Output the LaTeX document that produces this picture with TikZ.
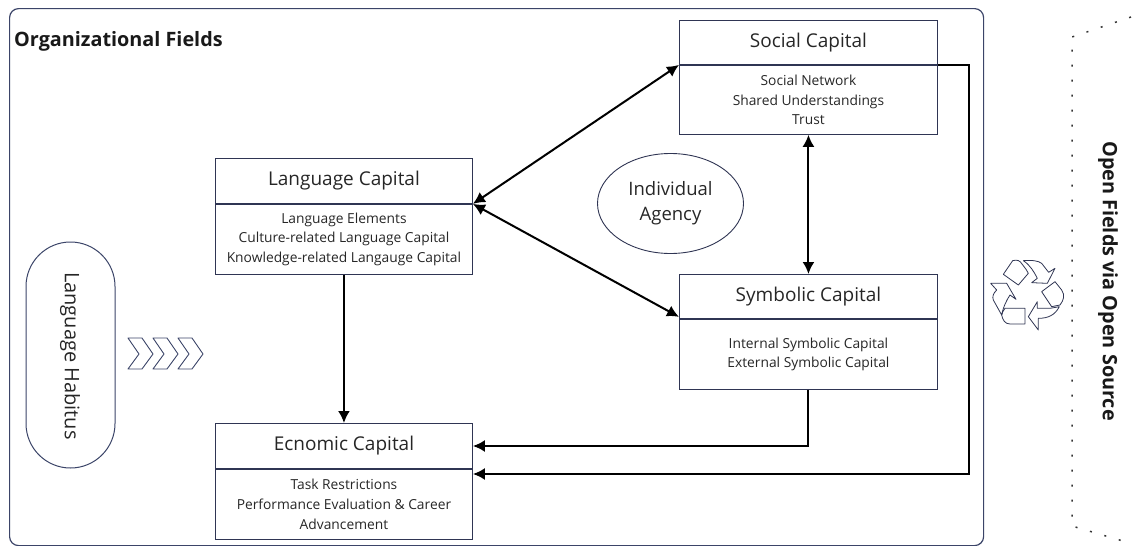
\documentclass[tikz,border=0pt]{standalone}
\usepackage{fontspec}
\setmainfont{Open Sans}
\usetikzlibrary{arrows.meta,positioning,calc,shapes.geometric}
\definecolor{framecol}{HTML}{3B4468}
\definecolor{boxcol}{HTML}{2F3553}
\tikzset{
  headbox/.style = {draw=boxcol, line width=.9pt, minimum height=44pt, font=\fontsize{19}{23}\selectfont, text=black!85},
  bodybox/.style = {draw=boxcol, line width=.9pt, align=center, font=\fontsize{13.8}{19.6}\selectfont, text=black!85, inner sep=0pt},
  link/.style = {line width=2pt, black, -{Latex[length=12pt,width=12pt]}},
  twolink/.style = {line width=2pt, black, {Latex[length=12pt,width=12pt]}-{Latex[length=12pt,width=12pt]}},
  recycle/.style = {draw=boxcol, line width=.8pt, line join=round}
}
\begin{document}
\begin{tikzpicture}[x=1pt, y=-1pt]
  \useasboundingbox (0,0) rectangle (1141,546);
  % frame
  \node[draw=framecol, line width=1.2pt, rounded corners=9pt, minimum width=974pt, minimum height=537pt, anchor=north west] (orgframe) at (9,8) {};
  \node[anchor=west, font=\fontsize{19.8}{24}\bfseries\selectfont, inner sep=0pt, text=black!90] (orgtitle) at (14,41) {Organizational Fields};

  % capitals
  \node[headbox, minimum width=258pt, anchor=north west] (socialhead) at (679,20) {Social Capital};
  \node[bodybox, minimum width=258pt, minimum height=69pt, below=0pt of socialhead] (socialbody) {Social Network\\Shared Understandings\\Trust};
  \node[headbox, minimum width=257pt, minimum height=45pt, anchor=north west] (langhead) at (215,158) {Language Capital};
  \node[bodybox, minimum width=257pt, minimum height=70pt, below=0pt of langhead] (langbody) {Language Elements\\Culture-related Language Capital\\Knowledge-related Langauge Capital};
  \node[headbox, minimum width=258pt, anchor=north west] (symhead) at (679,274) {Symbolic Capital};
  \node[bodybox, minimum width=258pt, minimum height=70pt, below=0pt of symhead] (symbody) {Internal Symbolic Capital\\External Symbolic Capital};
  \node[headbox, minimum width=257pt, minimum height=45pt, anchor=north west] (ecohead) at (215,423) {Ecnomic Capital};
  \node[bodybox, minimum width=257pt, minimum height=70pt, below=0pt of ecohead] (ecobody) {Task Restrictions\\Performance Evaluation \& Career\\Advancement};

  \node[draw=boxcol, line width=.9pt, ellipse, minimum width=146pt, minimum height=100pt, align=center, font=\fontsize{18.5}{25}\selectfont, inner sep=0pt, text=black!85] (agency) at (670.5,203.5) {Individual\\Agency};

  % habitus
  \node[draw=framecol, line width=1pt, rounded corners=44.5pt, minimum width=89pt, minimum height=226pt] (habitus) at (70.5,355) {};
  \node[rotate=-90, font=\fontsize{20}{24}\selectfont, text=black!85] (habitustext) at (70,356) {Language Habitus};
  \foreach \dx in {0,25,50}
    \draw[framecol, line width=.9pt, line join=round, xshift=\dx pt] (128,338) -- (142,338) -- (153,354) -- (142,369) -- (128,369) -- (139,354) -- cycle;

  % connectors
  \coordinate (ecoup) at ($(ecohead.north east)+(0,23)$);
  \coordinate (ecolow) at ($(ecohead.north east)+(0,51)$);
  \coordinate (symport) at ($(symhead.south west)+(0,-2)$);
  \draw[twolink] (langhead.south east) -- (socialhead.south west);
  \draw[twolink] (langhead.south east) -- (symport);
  \draw[twolink] (socialbody.south) -- (symhead.north);
  \draw[link] (langbody.south) -- (ecohead.north);
  \draw[link] (symbody.south) |- (ecoup);
  \draw[link] (socialhead.south east) -- ++(31,0) |- (ecolow);

  % recycle sign
  \begin{scope}[shift={(960,240)}, x=.3333pt, y=-.3333pt]
    \draw[recycle] (130,103) -- (158,62) .. controls (172,58) and (180,62) .. (186,72) .. controls (198,88) and (202,92) .. (205,100) -- (175,135) -- cycle;
    \draw[recycle] (190,62) .. controls (215,60) and (235,62) .. (245,70) -- (266,97) -- (285,85) -- (262,130) -- (215,128) -- (232,115) .. controls (222,95) and (210,75) .. (190,62) -- cycle;
    \draw[recycle] (245,155) -- (285,125) -- (305,150) .. controls (315,165) and (312,180) .. (300,195) -- (275,200) -- cycle;
    \draw[recycle] (298,200) .. controls (285,225) and (265,235) .. (235,235) -- (235,270) -- (205,230) -- (232,185) -- (232,205) -- (270,205) -- cycle;
    \draw[recycle] (125,225) .. controls (128,215) and (132,208) .. (135,205) -- (195,205) -- (195,252) -- (150,252) .. controls (135,252) and (128,240) .. (125,225) -- cycle;
    \draw[recycle] (125,225) -- (100,180) .. controls (96,170) and (100,160) .. (110,150) -- (92,130) -- (140,130) -- (168,178) -- (150,165) .. controls (140,180) and (130,200) .. (125,225) -- cycle;
  \end{scope}

  % open fields
  \coordinate (opentop) at (1131,17);
  \coordinate (opencorner) at (1072,37);
  \coordinate (openlow) at (1072,526);
  \coordinate (openbottom) at (1133,544);
  \draw[line width=1.5pt, black!80, dash pattern=on 2pt off 13pt] (opentop) -- (opencorner) -- (openlow) -- (openbottom);
  \node[rotate=-90, font=\fontsize{19.8}{24}\bfseries\selectfont, text=black!90] (opentext) at (1108,281) {Open Fields via Open Source};
\end{tikzpicture}
\end{document}
